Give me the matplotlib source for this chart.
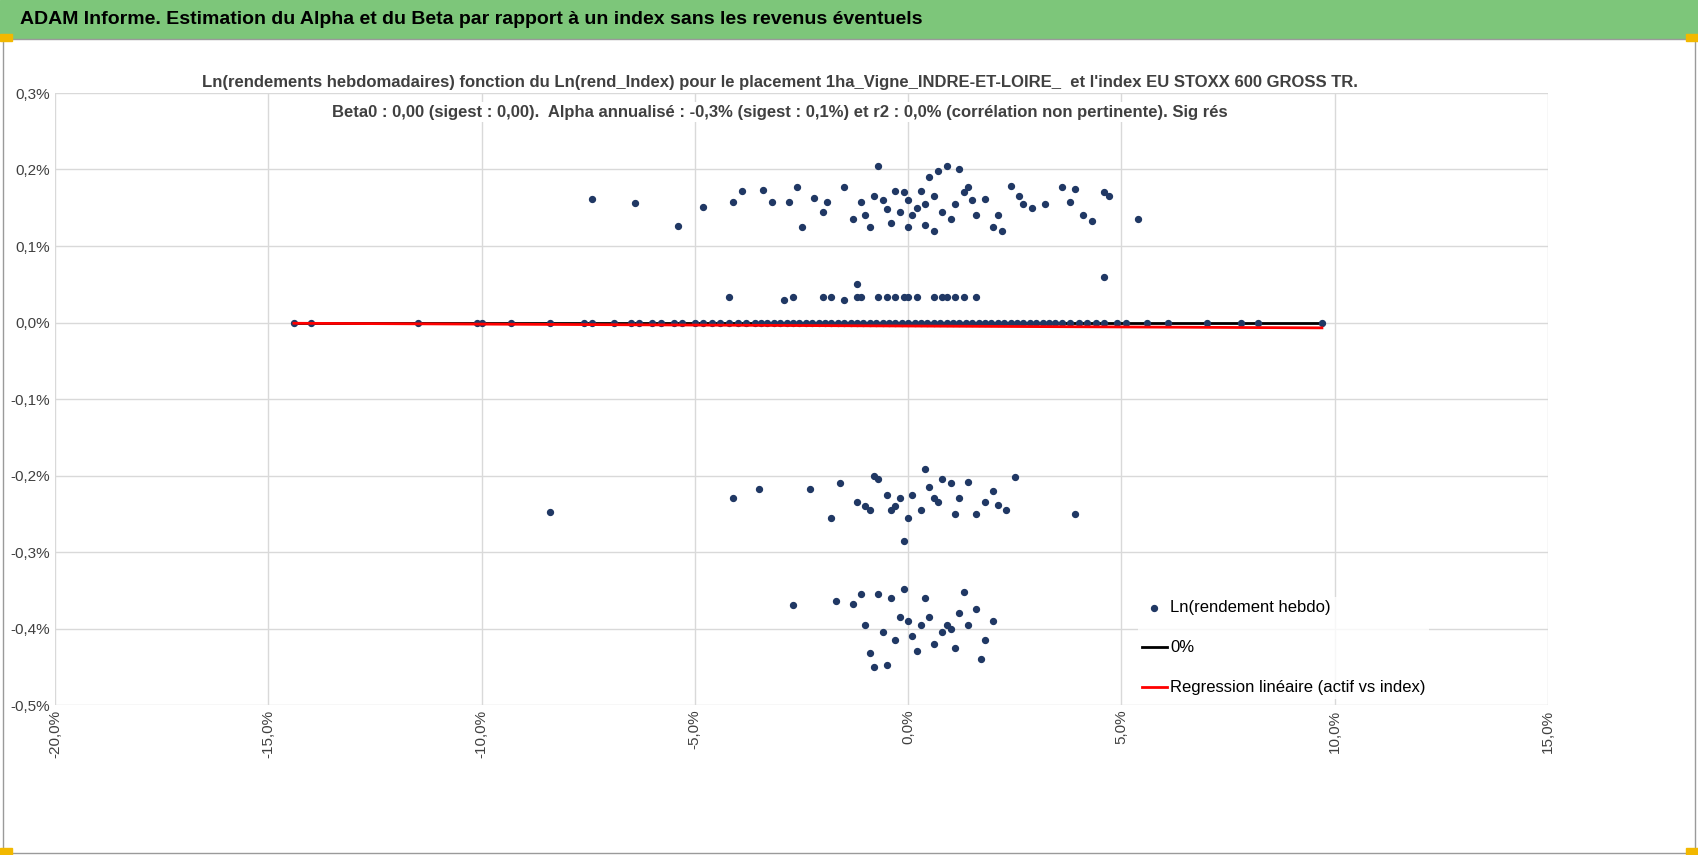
import matplotlib.pyplot as plt
from matplotlib.patches import Rectangle
from matplotlib.ticker import FuncFormatter

plt.rcParams['font.family'] = ['Liberation Sans', 'DejaVu Sans']

# points (x: rend index %, y: ln rendement %)
up_x = [-7.4, -6.4, -5.4, -4.8, -4.1, -3.9, -3.4, -3.2, -2.8, -2.6, -2.5, -2.2, -1.9, -1.5, -1.3, -1.1,
        -0.9, -0.7, -0.5, -0.3, -0.2, 0.0, 0.1, 0.3, 0.4, 0.5, 0.6, 0.7, 0.9, 1.1, 1.2, 1.4, 1.6, 1.8,
        2.0, 2.2, 2.4, 2.6, 2.9, 3.2, 3.6, 3.8, 4.1, 4.3, 4.6, 5.4, -1.0, -0.6, 0.2, 0.8, 1.0, -0.1,
        0.4, 1.5, 2.7, 3.9, -0.4, 0.6, -0.8, 1.3, 0.0, 2.1, 4.7, -2.0, 4.6, -1.2]
up_y = [0.162, 0.156, 0.126, 0.151, 0.158, 0.172, 0.173, 0.157, 0.158, 0.177, 0.125, 0.163, 0.158, 0.177,
        0.135, 0.158, 0.125, 0.205, 0.149, 0.172, 0.145, 0.160, 0.140, 0.172, 0.128, 0.190, 0.165, 0.198,
        0.205, 0.155, 0.200, 0.177, 0.140, 0.162, 0.125, 0.120, 0.178, 0.165, 0.150, 0.155, 0.177, 0.158,
        0.140, 0.133, 0.170, 0.135, 0.140, 0.160, 0.150, 0.145, 0.135, 0.170, 0.155, 0.160, 0.155, 0.175,
        0.130, 0.120, 0.165, 0.170, 0.125, 0.140, 0.165, 0.145, 0.060, 0.050]
mid_x = [-4.2, -2.7, -2.0, -1.8, -1.2, -1.1, -0.7, -0.5, -0.3, -0.1, 0.0, 0.2, 0.6, 0.8, 0.9, 1.1, 1.3,
         1.6, -2.9, -1.5]
mid_y = [0.033] * 18 + [0.030, 0.030]
zero_x = [-14.4, -14.0, -11.5, -10.1, -10.0, -9.3, -8.4, -7.6, -7.4, -6.9, -6.5, -6.3, -6.0, -5.8, -5.5,
          -5.3, -5.0, -4.8, -4.6, -4.4, -4.2, -4.0, -3.8, -3.6, -3.45, -3.3, -3.15, -3.0, -2.85, -2.7,
          -2.55, -2.4, -2.25, -2.1, -1.95, -1.8, -1.65, -1.5, -1.35, -1.2, -1.05, -0.9, -0.75, -0.6,
          -0.45, -0.3, -0.15, 0.0, 0.15, 0.3, 0.45, 0.6, 0.75, 0.9, 1.05, 1.2, 1.35, 1.5, 1.65, 1.8,
          1.95, 2.1, 2.25, 2.4, 2.55, 2.7, 2.85, 3.0, 3.15, 3.3, 3.45, 3.6, 3.8, 4.0, 4.2, 4.4, 4.6,
          4.9, 5.1, 5.6, 6.1, 7.0, 7.8, 8.2, 9.7]
zero_y = [0.0] * len(zero_x)
lo_x = [-8.4, -4.1, -3.5, -2.3, -1.8, -1.6, -1.2, -1.0, -0.8, -0.7, -0.5, -0.4, -0.2, -0.1, 0.0, 0.1,
        0.3, 0.4, 0.5, 0.7, 0.8, 1.0, 1.2, 1.4, 1.6, 1.8, 2.0, 2.3, 2.5, 3.9, -0.9, 0.6, 1.1, -0.3, 2.1]
lo_y = [-0.248, -0.230, -0.217, -0.217, -0.255, -0.210, -0.235, -0.240, -0.200, -0.205, -0.225, -0.245,
        -0.230, -0.285, -0.255, -0.225, -0.245, -0.192, -0.215, -0.235, -0.205, -0.210, -0.230, -0.208,
        -0.250, -0.235, -0.220, -0.245, -0.202, -0.250, -0.245, -0.230, -0.250, -0.240, -0.238]
bot_x = [-2.7, -1.7, -1.3, -1.1, -1.0, -0.9, -0.7, -0.6, -0.5, -0.4, -0.3, -0.1, 0.0, 0.1, 0.3, 0.4,
         0.5, 0.6, 0.8, 1.0, 1.1, 1.3, 1.4, 1.6, 1.7, 1.8, 2.0, -0.8, 0.2, 1.2, 0.9, -0.2]
bot_y = [-0.369, -0.364, -0.368, -0.355, -0.395, -0.432, -0.355, -0.405, -0.448, -0.360, -0.415, -0.348,
         -0.390, -0.410, -0.395, -0.360, -0.385, -0.420, -0.405, -0.400, -0.425, -0.352, -0.395, -0.375,
         -0.440, -0.415, -0.390, -0.450, -0.430, -0.380, -0.395, -0.385]

xs = up_x + mid_x + zero_x + lo_x + bot_x
ys = up_y + mid_y + zero_y + lo_y + bot_y
line_x = [-14.4, 9.7]
reg_y = [-0.001, -0.007]

fig = plt.figure(figsize=(16.98, 8.55), dpi=100)
fig.patches.append(Rectangle((0, 1 - 38 / 855), 1, 38 / 855, transform=fig.transFigure,
                             color='#7dc67a', zorder=0))
fig.patches.append(Rectangle((0.002, 0.002), 0.996, 0.952, transform=fig.transFigure,
                             fill=False, edgecolor='#9a9a9a', lw=1))
for (cx, cy) in [(0, 0.952), (0.993, 0.952), (0, 0), (0.993, 0)]:
    fig.patches.append(Rectangle((cx, cy), 0.007, 0.008, transform=fig.transFigure,
                                 color='#f2b800', zorder=3))
fig.text(0.012, 0.977, "ADAM Informe. Estimation du Alpha et du Beta par rapport à un index sans les revenus éventuels",
         fontsize=14, fontweight='bold', va='center')

ax = fig.add_axes([55 / 1698, 1 - 705 / 855, 1493 / 1698, 612 / 855])
ax.scatter(xs, ys, s=18, color='#203864', zorder=3, label='Ln(rendement hebdo)')
ax.plot(line_x, [0, 0], color='black', lw=2, zorder=2, label='0%')
ax.plot(line_x, reg_y, color='#ff0000', lw=2, zorder=4, label='Regression linéaire (actif vs index)')
ax.set_xlim(-20, 15)
ax.set_ylim(-0.5, 0.3)
ax.set_xticks(range(-20, 16, 5))
ax.set_yticks([-0.5, -0.4, -0.3, -0.2, -0.1, 0.0, 0.1, 0.2, 0.3])
ax.xaxis.set_major_formatter(FuncFormatter(lambda v, p: f"{v:.1f}%".replace('.', ',')))
ax.yaxis.set_major_formatter(FuncFormatter(lambda v, p: f"{v:.1f}%".replace('.', ',')))
ax.grid(True, color='#d9d9d9', lw=1)
ax.set_axisbelow(True)
for s in ax.spines.values():
    s.set_visible(False)
ax.tick_params(length=0, labelsize=11, colors='#404040')
plt.setp(ax.get_xticklabels(), rotation=90)

fig.text(780 / 1698, 1 - 82 / 855,
         "Ln(rendements hebdomadaires) fonction du Ln(rend_Index) pour le placement 1ha_Vigne_INDRE-ET-LOIRE_  et l'index EU STOXX 600 GROSS TR.",
         ha='center', va='center', fontsize=12, fontweight='bold', color='#404040',
         bbox=dict(facecolor='white', edgecolor='none', pad=2))
fig.text(780 / 1698, 1 - 112 / 855,
         "Beta0 : 0,00 (sigest : 0,00).  Alpha annualisé : -0,3% (sigest : 0,1%) et r2 : 0,0% (corrélation non pertinente). Sig rés",
         ha='center', va='center', fontsize=12, fontweight='bold', color='#404040',
         bbox=dict(facecolor='white', edgecolor='none', pad=2))

ax.legend(loc='upper left', bbox_to_anchor=(0.72, 0.19), frameon=True, facecolor='white',
          edgecolor='none', fancybox=False, fontsize=12, labelspacing=1.5, handlelength=1.5,
          handletextpad=0.2, borderpad=0.2)

fig.savefig('out.png')
